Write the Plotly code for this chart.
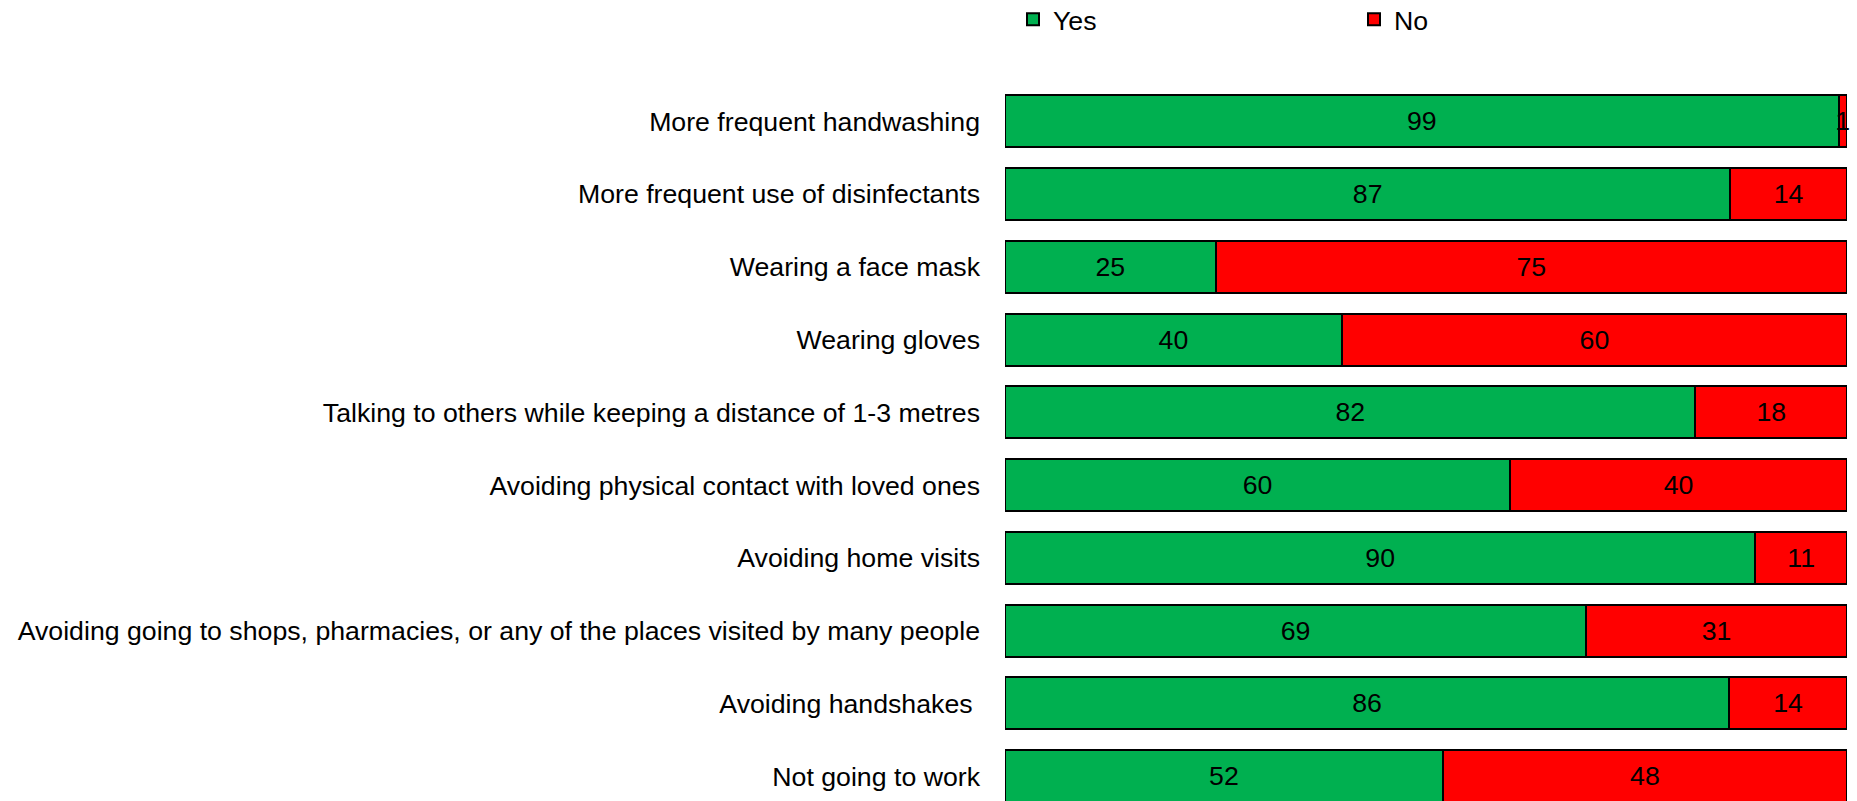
import plotly.graph_objects as go

categories = [
    "More frequent handwashing",
    "More frequent use of disinfectants",
    "Wearing a face mask",
    "Wearing gloves",
    "Talking to others while keeping a distance of 1-3 metres",
    "Avoiding physical contact with loved ones",
    "Avoiding home visits",
    "Avoiding going to shops, pharmacies, or any of the places visited by many people",
    "Avoiding handshakes ",
    "Not going to work",
]
yes_values = [99, 87, 25, 40, 82, 60, 90, 69, 86, 52]
no_values = [1, 14, 75, 60, 18, 40, 11, 31, 14, 48]

FONT = "Liberation Sans, Arial, sans-serif"
FS = 26.7
W, H = 1857, 801
plot_left, plot_right = 1005, 1847
plot_top = 84.6
pitch = 72.8
plot_h = H - plot_top
n_visible = plot_h / pitch

fig = go.Figure()
fig.add_trace(go.Bar(
    name="Yes", y=categories, x=yes_values, orientation="h",
    marker=dict(color="#00B050", line=dict(color="black", width=2)),
    text=[str(v) for v in yes_values], textposition="inside",
    insidetextanchor="middle", textfont=dict(color="black", size=FS, family=FONT),
    constraintext="none", cliponaxis=False,
))
fig.add_trace(go.Bar(
    name="No", y=categories, x=no_values, orientation="h",
    marker=dict(color="#FF0000", line=dict(color="black", width=2)),
    text=[str(v) for v in no_values], textposition="inside",
    insidetextanchor="middle", textfont=dict(color="black", size=FS, family=FONT),
    constraintext="none", cliponaxis=False,
))

fig.update_layout(
    width=W, height=H,
    barmode="stack", barnorm="percent", bargap=0.286,
    plot_bgcolor="white", paper_bgcolor="white",
    font=dict(family=FONT, size=FS, color="black"),
    margin=dict(l=plot_left, r=W - plot_right, t=plot_top, b=0, pad=0, autoexpand=False),
    uniformtext=dict(mode="show", minsize=FS),
    showlegend=True,
    legend=dict(
        orientation="h", xref="container", yref="paper",
        x=1013 / W, xanchor="left", y=1 + (plot_top + 5) / plot_h, yanchor="top",
        entrywidth=296, entrywidthmode="pixels",
        font=dict(size=FS, family=FONT, color="black"),
        bgcolor="rgba(0,0,0,0)",
        traceorder="normal", itemclick=False,
    ),
    xaxis=dict(range=[0, 100], visible=False, fixedrange=True),
    yaxis=dict(
        type="category", range=[-0.5 + n_visible, -0.5],
        showgrid=False, zeroline=False, showline=False,
        ticks="", ticklabelstandoff=24, automargin=False,
        tickfont=dict(size=FS, family=FONT, color="black"),
    ),
)

fig.write_html(
    "out.html",
    config={"displayModeBar": False},
    post_script="document.body.style.margin='0';document.body.style.overflow='hidden';",
)
